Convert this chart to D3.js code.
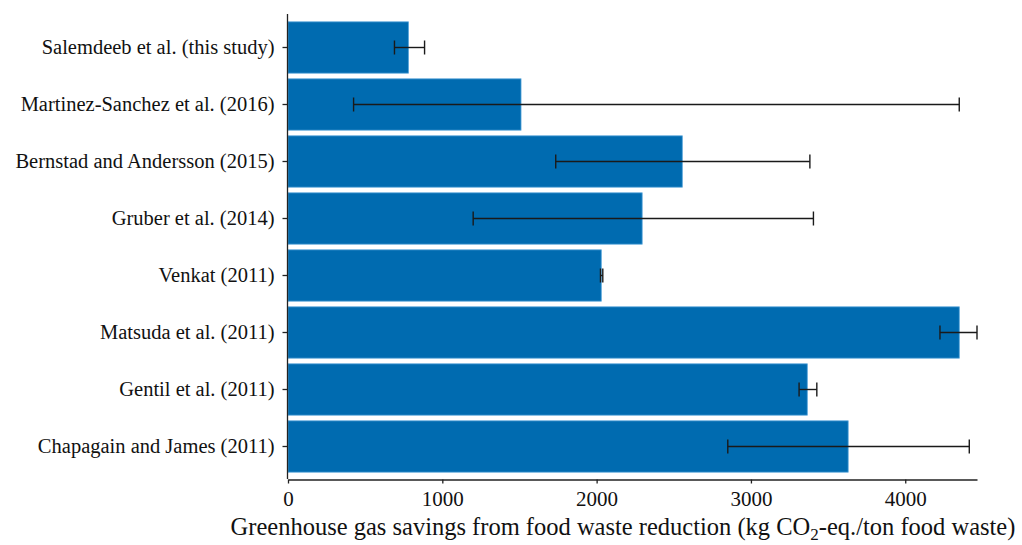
<!DOCTYPE html>
<html>
<head>
<meta charset="utf-8">
<script src="https://cdn.jsdelivr.net/npm/d3@7"></script>
<style>
  html, body { margin: 0; padding: 0; background: #fff; }
  svg { display: block; }
  text { font-family: "Liberation Serif", "Times New Roman", serif; fill: #111; }
</style>
</head>
<body>
<svg id="chart" width="1022" height="545"></svg>
<script>
// Studies, top to bottom
const studies = [
  "Salemdeeb et al. (this study)",
  "Martinez-Sanchez et al. (2016)",
  "Bernstad and Andersson (2015)",
  "Gruber et al. (2014)",
  "Venkat (2011)",
  "Matsuda et al. (2011)",
  "Gentil et al. (2011)",
  "Chapagain and James (2011)"
];
// GHG savings, kg CO2-eq. per ton of food waste
const savings = [780, 1510, 2555, 2295, 2030, 4350, 3365, 3630];
// Range of reported estimates (lower and upper ends)
const rangeLow  = [690, 425, 1735, 1200, 2025, 4225, 3312, 2850];
const rangeHigh = [885, 4350, 3382, 3405, 2040, 4465, 3427, 4415];
const xTicks = [0, 1000, 2000, 3000, 4000];

const rows = studies.map((s, i) => ({
  study: s, value: savings[i], lo: rangeLow[i], hi: rangeHigh[i]
}));

const svg = d3.select("#chart");
const plotLeft = 288, plotRight = 977, plotTop = 14, plotBottom = 479;
const serif = "Liberation Serif, Times New Roman, serif";

const x = d3.scaleLinear()
  .domain([0, d3.max(rangeHigh)])
  .range([plotLeft, plotRight]);

const y = d3.scaleBand()
  .domain(studies)
  .range([19, 475])
  .paddingInner(0.1)
  .paddingOuter(0.05);

// Bars
svg.append("g").selectAll("rect")
  .data(rows)
  .join("rect")
  .attr("x", x(0))
  .attr("y", d => y(d.study))
  .attr("width", d => x(d.value) - x(0))
  .attr("height", y.bandwidth())
  .attr("fill", "#006bb0")
  .attr("stroke", "#4fa0d8")
  .attr("stroke-width", 0.8);

// Error bars
const cap = 7;
const eb = svg.append("g")
  .attr("stroke", "#1a1a1a")
  .attr("stroke-width", 1.4);
const ebRows = eb.selectAll("g").data(rows).join("g")
  .attr("transform", d => `translate(0,${y(d.study) + y.bandwidth() / 2})`);
ebRows.append("line")
  .attr("x1", d => x(d.lo)).attr("x2", d => x(d.hi))
  .attr("y1", 0).attr("y2", 0);
ebRows.append("line")
  .attr("x1", d => x(d.lo)).attr("x2", d => x(d.lo))
  .attr("y1", -cap).attr("y2", cap);
ebRows.append("line")
  .attr("x1", d => x(d.hi)).attr("x2", d => x(d.hi))
  .attr("y1", -cap).attr("y2", cap);

// Y axis
const yAxis = svg.append("g")
  .attr("transform", `translate(${plotLeft - 0.5},0)`)
  .call(d3.axisLeft(y).tickSize(5).tickPadding(8).tickSizeOuter(0));
yAxis.attr("font-family", serif);
yAxis.select(".domain").attr("d", `M0,${plotTop}V${plotBottom}`).attr("stroke", "#222").attr("stroke-width", 1.3);
yAxis.selectAll(".tick line").attr("stroke", "#222").attr("stroke-width", 1.3);
yAxis.selectAll(".tick text")
  .attr("font-size", 20.5)
  .attr("font-family", serif)
  .attr("fill", "#111");

// X axis
const xAxis = svg.append("g")
  .attr("transform", `translate(0,${plotBottom + 0.5})`)
  .call(d3.axisBottom(x).tickValues(xTicks).tickFormat(d3.format("d"))
    .tickSize(4).tickPadding(8).tickSizeOuter(0));
xAxis.attr("font-family", serif);
xAxis.select(".domain").attr("stroke", "#222").attr("stroke-width", 1.3);
xAxis.selectAll(".tick line").attr("stroke", "#222").attr("stroke-width", 1.3);
xAxis.selectAll(".tick text")
  .attr("font-size", 21)
  .attr("font-family", serif)
  .attr("fill", "#111");

// X axis title with subscript
const title = svg.append("text")
  .attr("x", 623)
  .attr("y", 535)
  .attr("text-anchor", "middle")
  .attr("font-family", serif)
  .attr("font-size", 24.5);
title.append("tspan").text("Greenhouse gas savings from food waste reduction (kg CO");
title.append("tspan").attr("font-size", 17).attr("dy", 5).text("2");
title.append("tspan").attr("dy", -5).text("-eq./ton food waste)");
</script>
</body>
</html>
